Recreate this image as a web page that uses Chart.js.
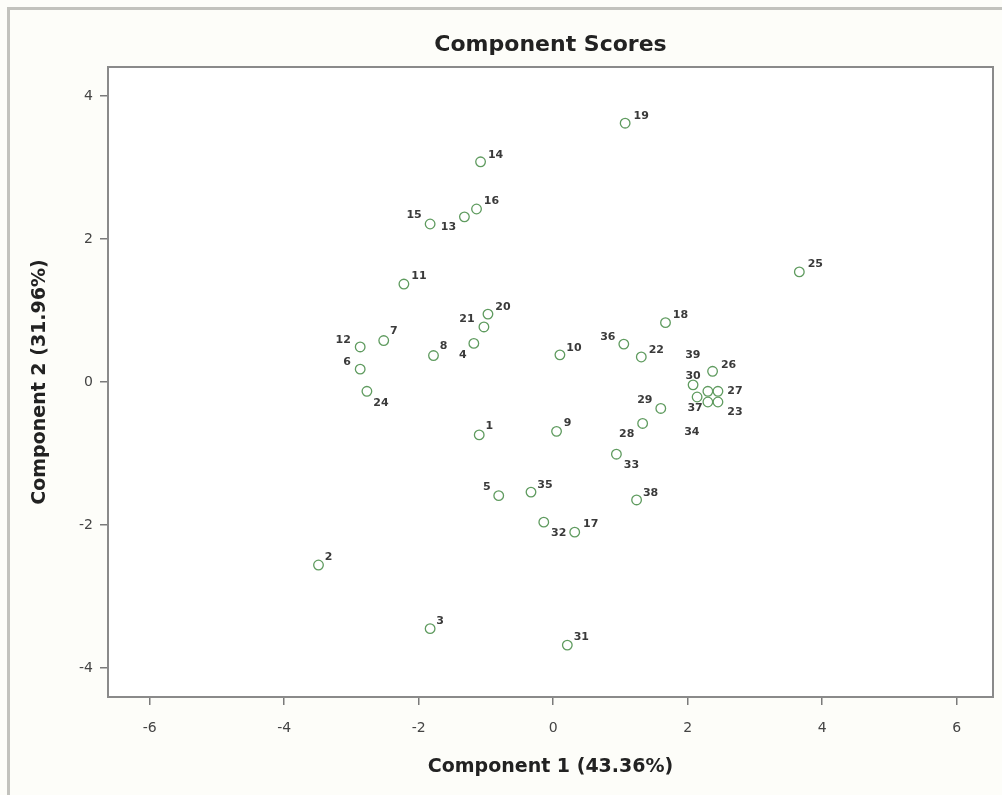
<!DOCTYPE html>
<html>
<head>
<meta charset="utf-8">
<title>Component Scores</title>
<script src="https://cdn.jsdelivr.net/npm/chart.js@4.4.1/dist/chart.umd.min.js"></script>
<style>
  html, body { margin: 0; padding: 0; background: #fdfdf9; }
  #wrap { width: 1002px; height: 795px; }
</style>
</head>
<body>
<div id="wrap"><canvas id="scores" width="1002" height="795"></canvas></div>
<script>
// Observation numbers and their scores on the first two principal components
const obsIds = [1, 2, 3, 4, 5, 6, 7, 8, 9, 10,
                11, 12, 13, 14, 15, 16, 17, 18, 19, 20,
                21, 22, 23, 24, 25, 26, 27, 28, 29, 30,
                31, 32, 33, 34, 35, 36, 37, 38, 39];
const comp1 = [-1.10, -3.49, -1.83, -1.18, -0.81, -2.87, -2.52, -1.78, 0.05, 0.10,
               -2.22, -2.87, -1.32, -1.08, -1.83, -1.14, 0.32, 1.67, 1.07, -0.97,
               -1.03, 1.31, 2.45, -2.77, 3.66, 2.37, 2.45, 1.33, 1.60, 2.08,
               0.21, -0.14, 0.94, 2.30, -0.33, 1.05, 2.14, 1.24, 2.30];
const comp2 = [-0.74, -2.56, -3.45, 0.54, -1.59, 0.18, 0.58, 0.37, -0.69, 0.38,
               1.37, 0.49, 2.31, 3.08, 2.21, 2.42, -2.10, 0.83, 3.62, 0.95,
               0.77, 0.35, -0.28, -0.13, 1.54, 0.15, -0.13, -0.58, -0.37, -0.04,
               -3.68, -1.96, -1.01, -0.28, -1.54, 0.53, -0.21, -1.65, -0.13];
const xTicks = [-6, -4, -2, 0, 2, 4, 6];
const yTicks = [-4, -2, 0, 2, 4];
const xLabel = 'Component 1 (43.36%)';
const yLabel = 'Component 2 (31.96%)';
const chartTitle = 'Component Scores';

// Where each observation number sits relative to its marker (pixels)
const labelOffsets = {
  1: [10, -9], 2: [10, -8], 3: [10, -8], 4: [-11, 12], 5: [-12, -9],
  6: [-13, -7], 7: [10, -9], 8: [10, -9], 9: [11, -8], 10: [14, -7],
  11: [15, -8], 12: [-17, -7], 13: [-16, 10], 14: [15, -7], 15: [-16, -9],
  16: [15, -8], 17: [16, -8], 18: [15, -8], 19: [16, -7], 20: [15, -7],
  21: [-17, -8], 22: [15, -7], 23: [17, 10], 24: [14, 12], 25: [16, -8],
  26: [16, -6], 27: [17, 0], 28: [-16, 11], 29: [-16, -8], 30: [0, -9],
  31: [14, -8], 32: [15, 11], 33: [15, 11], 34: [-16, 30], 35: [14, -7],
  36: [-16, -7], 37: [-2, 11], 38: [14, -7], 39: [-15, -36]
};

const points = obsIds.map((id, i) => ({ x: comp1[i], y: comp2[i], id }));

// Page frame, white plot panel and its border
const framePlugin = {
  id: 'frame',
  beforeDraw(chart) {
    const { ctx, chartArea: a } = chart;
    ctx.save();
    ctx.fillStyle = '#fdfdf9';
    ctx.fillRect(0, 0, chart.width, chart.height);
    ctx.fillStyle = '#c2c2bd';
    ctx.fillRect(7, 7, chart.width - 7, 3);
    ctx.fillRect(7, 7, 3, chart.height - 7);
    ctx.fillStyle = '#ffffff';
    ctx.fillRect(a.left, a.top, a.right - a.left, a.bottom - a.top);
    ctx.restore();
  },
  afterDraw(chart) {
    const { ctx, chartArea: a } = chart;
    ctx.save();
    ctx.strokeStyle = '#8a8a8a';
    ctx.lineWidth = 2;
    ctx.strokeRect(a.left, a.top, a.right - a.left, a.bottom - a.top);
    ctx.restore();
  }
};

// Observation numbers next to the markers
const idLabelPlugin = {
  id: 'idLabels',
  afterDatasetsDraw(chart) {
    const { ctx } = chart;
    const meta = chart.getDatasetMeta(0);
    ctx.save();
    ctx.font = 'bold 11px "DejaVu Sans"';
    ctx.fillStyle = '#3a3a3a';
    ctx.textAlign = 'center';
    ctx.textBaseline = 'middle';
    meta.data.forEach((el, i) => {
      const id = points[i].id;
      const off = labelOffsets[id] || [12, -8];
      ctx.fillText(String(id), el.x + off[0], el.y + off[1]);
    });
    ctx.restore();
  }
};

const tickColor = '#7a7a7a';

new Chart(document.getElementById('scores'), {
  type: 'scatter',
  data: {
    datasets: [{
      data: points,
      pointStyle: 'circle',
      pointRadius: 4.8,
      pointHoverRadius: 4.8,
      borderWidth: 1.3,
      borderColor: '#5f9b5f',
      backgroundColor: 'rgba(0,0,0,0)'
    }]
  },
  options: {
    responsive: false,
    animation: false,
    devicePixelRatio: 1,
    layout: { padding: { left: 0, right: 9, top: 0, bottom: 0 } },
    plugins: {
      legend: { display: false },
      tooltip: { enabled: false },
      title: {
        display: true,
        fullSize: false,
        text: chartTitle,
        color: '#222222',
        font: { family: '"DejaVu Sans"', size: 22, weight: 'bold' },
        padding: { top: 32, bottom: 8.6 }
      }
    },
    scales: {
      x: {
        type: 'linear',
        min: -6.62,
        max: 6.54,
        afterBuildTicks(scale) { scale.ticks = xTicks.map(v => ({ value: v })); },
        afterFit(scale) { scale.height = 98; },
        grid: { drawOnChartArea: false, drawTicks: true, tickLength: 8, color: tickColor, lineWidth: 1.5 },
        border: { display: false },
        ticks: {
          color: '#444444',
          font: { family: '"DejaVu Sans"', size: 14 },
          padding: 15,
          maxRotation: 0
        },
        title: {
          display: true,
          text: xLabel,
          color: '#222222',
          font: { family: '"DejaVu Sans"', size: 19, weight: 'bold' },
          padding: { top: 0, bottom: 17 }
        }
      },
      y: {
        type: 'linear',
        min: -4.406,
        max: 4.406,
        afterBuildTicks(scale) { scale.ticks = yTicks.map(v => ({ value: v })); },
        afterFit(scale) { scale.width = 108; },
        grid: { drawOnChartArea: false, drawTicks: true, tickLength: 8, color: tickColor, lineWidth: 1.5 },
        border: { display: false },
        ticks: {
          color: '#444444',
          font: { family: '"DejaVu Sans"', size: 14 },
          padding: 7
        },
        title: {
          display: true,
          text: yLabel,
          color: '#222222',
          font: { family: '"DejaVu Sans"', size: 19, weight: 'bold' },
          padding: { top: 28.6, bottom: 0 }
        }
      }
    }
  },
  plugins: [framePlugin, idLabelPlugin]
});
</script>
</body>
</html>
